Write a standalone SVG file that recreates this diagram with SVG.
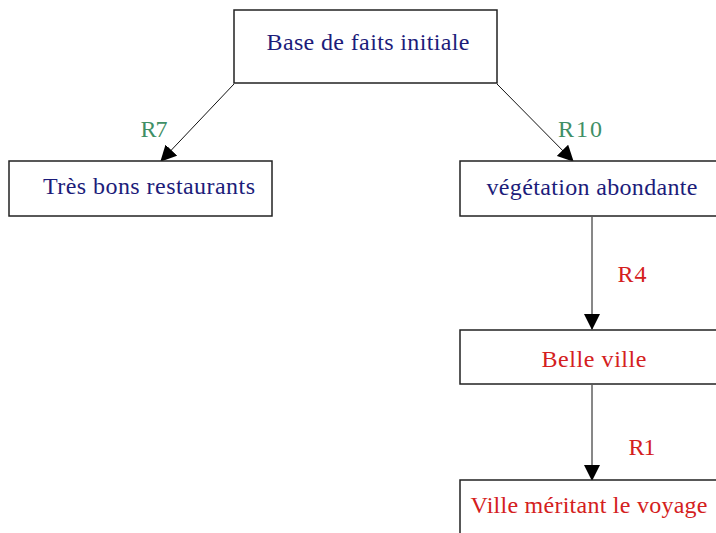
<svg xmlns="http://www.w3.org/2000/svg" width="716" height="533" viewBox="0 0 716 533">
<style>
.box{fill:#fff;stroke:#222;stroke-width:1.5}
.t{font-family:"Liberation Serif","Times New Roman",serif;font-size:24px;text-anchor:middle}
.blue{fill:#1c1c7a}
.red{fill:#d42020}
.green{fill:#3f8f66}
.c{stroke:#111;stroke-width:1;fill:none;marker-end:url(#ah)}
</style>
<defs>
<marker id="ah" markerWidth="16" markerHeight="16" refX="15" refY="8" orient="auto" markerUnits="userSpaceOnUse">
<path d="M0,0 L16,8 L0,16 Z" fill="#000"/>
</marker>
</defs>
<rect width="716" height="533" fill="#fff"/>
<g id="connectors">
<line class="c" x1="234" y1="84" x2="161" y2="161"/>
<line class="c" x1="497" y1="84" x2="573" y2="161"/>
<line class="c" x1="592" y1="217" x2="592" y2="329"/>
<line class="c" x1="592" y1="385" x2="592" y2="480"/>
<text class="t green" x="154" y="137" textLength="27" lengthAdjust="spacing">R7</text>
<text class="t green" x="580" y="137" textLength="44" lengthAdjust="spacing">R10</text>
<text class="t red" x="632" y="282" textLength="29" lengthAdjust="spacing">R4</text>
<text class="t red" x="642" y="455" textLength="27" lengthAdjust="spacing">R1</text>
</g>
<g id="n1">
<rect class="box" x="234" y="10" width="263" height="73"/>
<text class="t blue" x="368" y="50" textLength="203" lengthAdjust="spacing">Base de faits initiale</text>
</g>
<g id="n2">
<rect class="box" x="9" y="161" width="263" height="55"/>
<text class="t blue" x="149" y="194" textLength="212" lengthAdjust="spacing">Très bons restaurants</text>
</g>
<g id="n3">
<rect class="box" x="460" y="161" width="270" height="55"/>
<text class="t blue" x="592" y="195" textLength="211" lengthAdjust="spacing">végétation abondante</text>
</g>
<g id="n4">
<rect class="box" x="460" y="330" width="270" height="54"/>
<text class="t red" x="594" y="367" textLength="105" lengthAdjust="spacing">Belle ville</text>
</g>
<g id="n5">
<rect class="box" x="460" y="480" width="270" height="70"/>
<text class="t red" x="589" y="513" textLength="237" lengthAdjust="spacing">Ville méritant le voyage</text>
</g>
</svg>
